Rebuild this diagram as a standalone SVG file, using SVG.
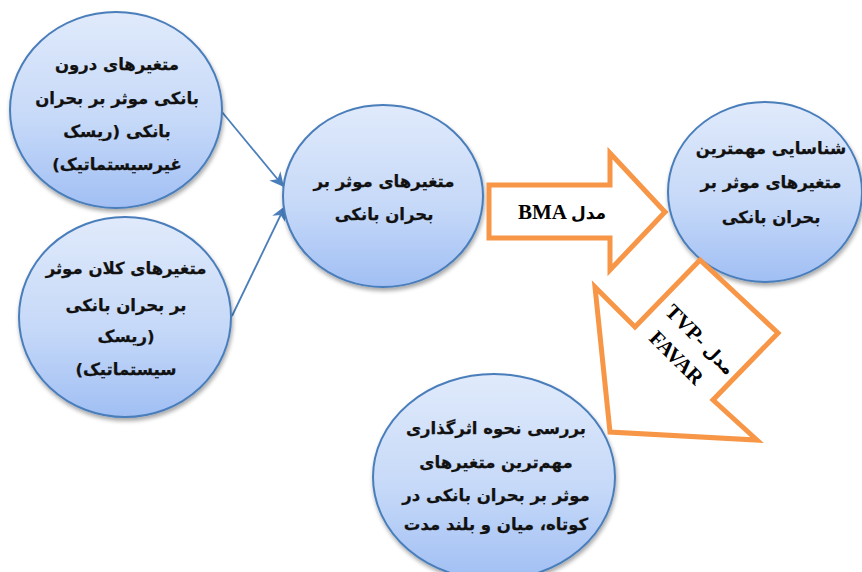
<svg xmlns="http://www.w3.org/2000/svg" width="862" height="572" viewBox="0 0 862 572">
<defs>
<linearGradient id="g" x1="0" y1="0" x2="0" y2="1">
<stop offset="0" stop-color="#E0EAFB"/>
<stop offset="0.55" stop-color="#C6D9F8"/>
<stop offset="1" stop-color="#A1BFF4"/>
</linearGradient>
<filter id="sh" x="-10%" y="-10%" width="125%" height="125%">
<feGaussianBlur in="SourceAlpha" stdDeviation="2"/>
<feOffset dx="1" dy="3" result="b"/>
<feComponentTransfer><feFuncA type="linear" slope="0.35"/></feComponentTransfer>
<feMerge><feMergeNode/><feMergeNode in="SourceGraphic"/></feMerge>
</filter>
<marker id="ah" viewBox="0 0 10 10" refX="10" refY="5" markerWidth="8" markerHeight="8" orient="auto" markerUnits="strokeWidth">
<path d="M0,0 L10,5 L0,10 L3,5 z" fill="#4A7EBB"/>
</marker>
<style>
.node{fill:url(#g);stroke:#4A7EBB;stroke-width:2;filter:url(#sh)}
.fa{font-family:"DejaVu Sans","Noto Sans",sans-serif;font-weight:bold;font-size:16.5px;fill:#111;stroke:#111;stroke-width:0.25;text-anchor:middle;direction:rtl;unicode-bidi:embed}
.en{font-family:"Liberation Serif","Times New Roman",serif;font-weight:bold;font-size:21px;fill:#000;text-anchor:middle}
.big{fill:#fff;stroke:#F79646;stroke-width:5;stroke-linejoin:miter}
.conn{stroke:#4A7EBB;stroke-width:1.8;fill:none;marker-end:url(#ah)}
</style>
</defs>
<rect width="862" height="572" fill="#fff"/>

<g id="connectors">
<line class="conn" x1="222" y1="112" x2="284" y2="187"/>
<line class="conn" x1="232" y1="316" x2="285" y2="206"/>
</g>

<g id="n1">
<ellipse class="node" cx="116" cy="110" rx="106" ry="98"/>
<text class="fa" x="117" y="70">متغیرهای درون</text>
<text class="fa" x="117" y="104">بانکی موثر بر بحران</text>
<text class="fa" x="117" y="137">بانکی (ریسک</text>
<text class="fa" x="117" y="170">غیرسیستماتیک)</text>
</g>

<g id="n2">
<ellipse class="node" cx="125" cy="317" rx="106" ry="100"/>
<text class="fa" x="126" y="274">متغیرهای کلان موثر</text>
<text class="fa" x="126" y="311">بر بحران بانکی</text>
<text class="fa" x="126" y="342">(ریسک</text>
<text class="fa" x="126" y="375">سیستماتیک)</text>
</g>

<g id="n3">
<ellipse class="node" cx="383" cy="196" rx="100" ry="91"/>
<text class="fa" x="384" y="187">متغیرهای موثر بر</text>
<text class="fa" x="384" y="220">بحران بانکی</text>
</g>

<g id="a1">
<polygon class="big" points="489,185 610,185 610,153 665,212 610,270 610,238 489,238"/>
<text class="en" x="562" y="219">BMA <tspan font-family="DejaVu Sans, sans-serif" font-size="17">مدل</tspan></text>
</g>

<g id="n4">
<ellipse class="node" cx="765" cy="192" rx="97" ry="90"/>
<text class="fa" x="771" y="154">شناسایی مهمترین</text>
<text class="fa" x="771" y="188">متغیرهای موثر بر</text>
<text class="fa" x="771" y="223">بحران بانکی</text>
</g>

<g id="a2">
<polygon class="big" points="700,260 778,333 713,400 757,440 610,432 595,287 635,327"/>
<g transform="translate(690,350) rotate(45)">
<text class="en" x="0" y="-8">TVP- <tspan font-family="DejaVu Sans, sans-serif" font-size="17">مدل</tspan></text>
<text class="en" x="-4" y="22">FAVAR</text>
</g>
</g>

<g id="n5">
<ellipse class="node" cx="494" cy="477" rx="121" ry="103"/>
<text class="fa" x="496" y="434">بررسی نحوه اثرگذاری</text>
<text class="fa" x="496" y="468">مهم‌ترین متغیرهای</text>
<text class="fa" x="496" y="501">موثر بر بحران بانکی در</text>
<text class="fa" x="496" y="530">کوتاه، میان و بلند مدت</text>
</g>
</svg>
